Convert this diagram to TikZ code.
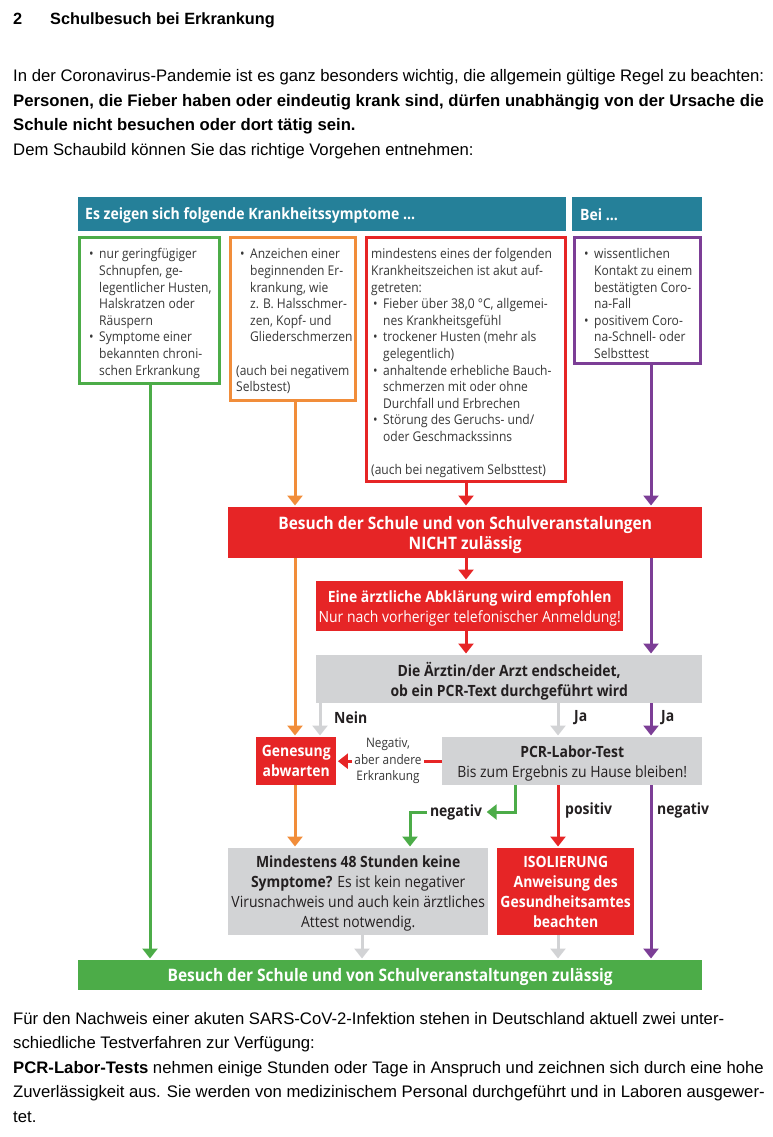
\documentclass[tikz,border=0pt]{standalone}
\usepackage{fontspec}
\setmainfont{Liberation Sans}
\newfontfamily\dg[FakeStretch=0.9]{Open Sans}
\usetikzlibrary{arrows.meta}
\definecolor{teal1}{RGB}{37,128,153}
\definecolor{grn}{RGB}{76,172,72}
\definecolor{org}{RGB}{241,141,58}
\definecolor{rd}{RGB}{230,37,38}
\definecolor{pur}{RGB}{124,62,150}
\definecolor{gry}{RGB}{210,211,213}
\definecolor{txt}{RGB}{35,31,32}
\definecolor{stxt}{RGB}{55,55,55}
\newcommand\bul{\hspace*{2pt}\makebox[10pt][l]{\textbullet}}
\newcommand\ind{\hspace*{12pt}}
\begin{document}
\begin{tikzpicture}[x=1pt,y=-1pt,
 fbox/.style={anchor=north west, inner sep=0, text depth=0pt},
 bbox/.style={draw, line width=3pt, inner sep=0, fill=white},
 arr/.style={line width=3pt, -{Triangle[width=15pt,length=10pt]}, shorten >=1.5pt},
 wt/.style={text=white, font=\dg\bfseries\fontsize{15.5}{20}\selectfont, align=center},
 wtb/.style={text=white, font=\dg\bfseries\fontsize{17.2}{20}\selectfont, align=center},
 dt/.style={text=txt, font=\dg\bfseries\fontsize{15.5}{20}\selectfont, align=center},
 symp/.style={anchor=north west, inner sep=0, align=left, text=stxt, font=\dg\fontsize{13.4}{16.6}\selectfont},
 lbl/.style={inner sep=0, anchor=west, text=txt, font=\dg\bfseries\fontsize{15.5}{16}\selectfont},
 body/.style={anchor=base west, inner sep=0, font=\fontsize{16.7}{20}\selectfont},
 hdr/.style={anchor=west, inner sep=0, text=white, font=\dg\bfseries\fontsize{15.6}{18}\selectfont},
]
\useasboundingbox (0,0) rectangle (773,1137);

% ---- page text ----
\node[body, font=\bfseries\fontsize{16.3}{18}\selectfont] (tnum) at (13,25) {2};
\node[body, font=\bfseries\fontsize{16.3}{18}\selectfont] (ttl) at (50,25) {Schulbesuch bei Erkrankung};
\node[body] (p1) at (13,82) {In der Coronavirus-Pandemie ist es ganz besonders wichtig, die allgemein gültige Regel zu beachten:};
\node[body, font=\bfseries\fontsize{16.7}{20}\selectfont] (p2) at (13,106.5) {Personen, die Fieber haben oder eindeutig krank sind, dürfen unabhängig von der Ursache die};
\node[body, font=\bfseries\fontsize{16.7}{20}\selectfont] (p3) at (13,131) {Schule nicht besuchen oder dort tätig sein.};
\node[body] (p4) at (13,155.5) {Dem Schaubild können Sie das richtige Vorgehen entnehmen:};

\node[body] (q1) at (13,1024) {Für den Nachweis einer akuten SARS-CoV-2-Infektion stehen in Deutschland aktuell zwei unter-};
\node[body] (q2) at (13,1048.5) {schiedliche Testverfahren zur Verfügung:};
\node[body] (q3) at (13,1073) {\textbf{PCR-Labor-Tests} nehmen einige Stunden oder Tage in Anspruch und zeichnen sich durch eine hohe};
\node[body] (q4) at (13,1097.5) {Zuverlässigkeit aus. Sie werden von medizinischem Personal durchgeführt und in Laboren ausgewer-};
\node[body] (q5) at (13,1122) {tet.};

% ---- headers ----
\node[fbox, fill=teal1, minimum width=488, minimum height=34] (h1) at (78,197) {};
\node[fbox, fill=teal1, minimum width=130, minimum height=34] (h2) at (572,197) {};
\node[hdr] (h1t) at (85,215) {Es zeigen sich folgende Krankheitssymptome ...};
\node[hdr] (h2t) at (580,215) {Bei ...};

% ---- symptom boxes ----
\node[bbox, draw=grn, minimum width=140, minimum height=146] (gb) at (149.5,310.5) {};
\node[bbox, draw=org, minimum width=125, minimum height=163] (ob) at (293,319) {};
\node[bbox, draw=rd, minimum width=199, minimum height=244] (rb) at (466,359.5) {};
\node[bbox, draw=pur, minimum width=126, minimum height=126] (pb) at (637.5,300.5) {};

\node[symp] (gbt) at (87,248.5) {\bul nur geringfügiger\\ \ind Schnupfen, ge-\\ \ind legentlicher Husten,\\ \ind Halskratzen oder\\ \ind Räuspern\\ \bul Symptome einer\\ \ind bekannten chroni-\\ \ind schen Erkrankung};
\node[symp] (obt) at (238,248.5) {\bul Anzeichen einer\\ \ind beginnenden Er-\\ \ind krankung, wie\\ \ind z. B. Halsschmer-\\ \ind zen, Kopf- und\\ \ind Gliederschmerzen\\[16.6pt] \hspace*{-2pt}(auch bei negativem\\ \hspace*{-2pt}Selbstest)};
\node[symp] (rbt) at (371,248.5) {mindestens eines der folgenden\\ Krankheitszeichen ist akut auf-\\ getreten:\\ \bul Fieber über 38,0 °C, allgemei-\\ \ind nes Krankheitsgefühl\\ \bul trockener Husten (mehr als\\ \ind gelegentlich)\\ \bul anhaltende erhebliche Bauch-\\ \ind schmerzen mit oder ohne\\ \ind Durchfall und Erbrechen\\ \bul Störung des Geruchs- und/\\ \ind oder Geschmackssinns\\[16.6pt] (auch bei negativem Selbsttest)};
\node[symp] (pbt) at (582,248.5) {\bul wissentlichen\\ \ind Kontakt zu einem\\ \ind bestätigten Coro-\\ \ind na-Fall\\ \bul positivem Coro-\\ \ind na-Schnell- oder\\ \ind Selbsttest};

% ---- flow boxes ----
\node[fbox, fill=rd, minimum width=474, minimum height=51, wtb] (rbar) at (228,507) {Besuch der Schule und von Schulveranstalungen\\NICHT zulässig};
\node[fbox, fill=rd, minimum width=307, minimum height=50, wt] (abk) at (316,581) {Eine ärztliche Abklärung wird empfohlen\\{\mdseries Nur nach vorheriger telefonischer Anmeldung!}};
\node[fbox, fill=gry, minimum width=386, minimum height=48, dt] (arzt) at (316,655) {Die Ärztin/der Arzt endscheidet,\\ob ein PCR-Text durchgeführt wird};
\node[fbox, fill=rd, minimum width=80, minimum height=48, wt] (gen) at (256,737) {Genesung\\abwarten};
\node[fbox, fill=gry, minimum width=260, minimum height=48, dt] (pcr) at (442,737) {PCR-Labor-Test\\{\mdseries Bis zum Ergebnis zu Hause bleiben!}};
\node[fbox, fill=gry, minimum width=260, minimum height=87, dt] (mind) at (228,848) {Mindestens 48 Stunden keine\\Symptome? {\mdseries Es ist kein negativer}\\{\mdseries Virusnachweis und auch kein ärztliches}\\{\mdseries Attest notwendig.}};
\node[fbox, fill=rd, minimum width=137, minimum height=87, wt] (iso) at (497,848) {ISOLIERUNG\\Anweisung des\\Gesundheitsamtes\\beachten};
\node[fbox, fill=grn, minimum width=624, minimum height=30, wtb] (gbar) at (78,960) {Besuch der Schule und von Schulveranstaltungen zulässig};

% ---- labels ----
\node[lbl] (nein) at (334,718) {Nein};
\node[lbl] (ja1) at (574,718) {Ja};
\node[lbl] (ja2) at (661,718) {Ja};
\node[lbl, anchor=center, inner xsep=3pt] (nl) at (456,812) {negativ};
\node[lbl] (pos) at (565,810) {positiv};
\node[lbl] (nr) at (657,810) {negativ};

% ---- column coordinates ----
\coordinate (cg) at (150,0);
\coordinate (co) at (295,0);
\coordinate (cr) at (466,0);
\coordinate (cp) at (651,0);
\coordinate (cn) at (320,0);
\coordinate (cj) at (558,0);
\coordinate (cgr) at (515,0);
\coordinate (cgl) at (410,0);
\coordinate (cm) at (362,0);

% ---- connectors ----
\draw[arr,grn] (gb.south -| cg) -- (gbar.north -| cg);
\draw[arr,org] (ob.south -| co) -- (rbar.north -| co);
\draw[arr,rd] (rb.south -| cr) -- (rbar.north -| cr);
\draw[arr,pur] (pb.south -| cp) -- (rbar.north -| cp);
\draw[arr,org] (rbar.south -| co) -- (gen.north -| co);
\draw[arr,rd] (rbar.south -| cr) -- (abk.north -| cr);
\draw[arr,rd] (abk.south -| cr) -- (arzt.north -| cr);
\draw[arr,pur] (rbar.south -| cp) -- (arzt.north -| cp);
\draw[arr,gry] (arzt.south -| cn) -- (gen.north -| cn);
\draw[arr,gry] (arzt.south -| cj) -- (pcr.north -| cj);
\draw[arr,pur] (arzt.south -| cp) -- (pcr.north -| cp);
\draw[arr,rd] (pcr.west) -- (gen.east);
\node[fill=white, inner xsep=2pt, inner ysep=0, align=center, text=stxt, font=\dg\fontsize{13.1}{16.5}\selectfont] (negl) at (388,761) {Negativ,\\aber andere\\Erkrankung};
\draw[arr,org] (gen.south -| co) -- (mind.north -| co);
\draw[arr,grn] (pcr.south -| cgr) |- (nl.east);
\draw[arr,grn] (nl.west) -| (mind.north -| cgl);
\draw[arr,rd] (pcr.south -| cj) -- (iso.north -| cj);
\draw[arr,pur] (pcr.south -| cp) -- (gbar.north -| cp);
\draw[arr,gry] (mind.south -| cm) -- (gbar.north -| cm);
\draw[arr,gry] (iso.south -| cj) -- (gbar.north -| cj);
\end{tikzpicture}
\end{document}
